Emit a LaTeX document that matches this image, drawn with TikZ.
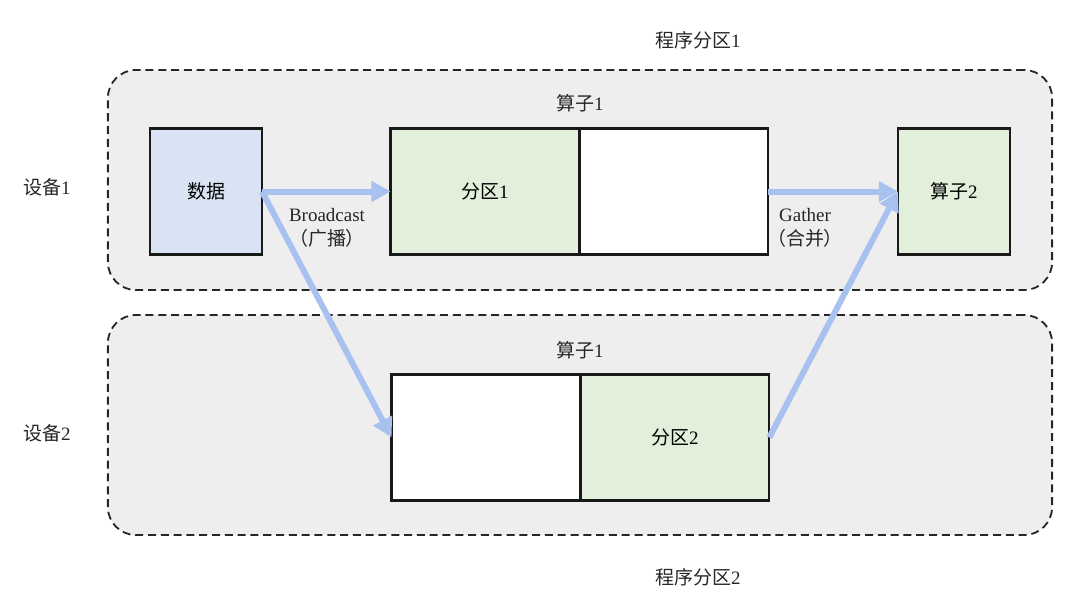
\documentclass[tikz,border=0pt]{standalone}
\usepackage{fontspec}
\setmainfont{Liberation Serif}
\newfontfamily\cjk{Noto Sans CJK SC}
\usepackage{xcolor}
\usepackage{tikz}
\usetikzlibrary{arrows.meta, positioning}
\definecolor{devgray}{HTML}{EEEEEE}
\definecolor{datablue}{HTML}{DAE3F3}
\definecolor{partgreen}{HTML}{E2EFDA}
\definecolor{arrowblue}{HTML}{A9C1EE}
\tikzset{
  device/.style={rectangle, rounded corners=0.7cm, draw=black!85, dash pattern=on 2mm off 1.2mm,
                 line width=1.3pt, fill=devgray, minimum width=23.6cm, minimum height=5.5cm},
  databox/.style={rectangle, draw=black!90, line width=1.7pt, fill=datablue, outer sep=0pt,
                  minimum width=2.8cm, minimum height=3.15cm, font=\fontsize{13.5}{16}\selectfont},
  partbox/.style={rectangle, draw=black!90, line width=1.7pt, fill=partgreen, outer sep=0pt,
                  minimum width=4.72cm, minimum height=3.15cm, font=\fontsize{13.5}{16}\selectfont},
  emptybox/.style={rectangle, draw=black!90, line width=1.7pt, fill=white, outer sep=0pt,
                   minimum width=4.72cm, minimum height=3.15cm},
  tag/.style={align=center, font=\fontsize{13.5}{17}\selectfont, text=black!85},
  arrow/.style={-{Triangle[length=0.48cm, width=0.5cm]}, line width=0.15cm, draw=arrowblue},
}

\begin{document}
\begin{tikzpicture}[x=0.025cm, y=-0.025cm]
  \useasboundingbox (0,0) rectangle (1080,606);

  % --- Program partitions (devices) ---
  \node[device] (dev1) at (580,180) {};
  \node[device] (dev2) at (580,425) {};
  \node[tag] (prog1) at (698,40)  {{\cjk 程序分区}1};
  \node[tag] (prog2) at (698,577) {{\cjk 程序分区}2};
  \node[tag] (devlab1) at (47,187) {{\cjk 设备}1};
  \node[tag] (devlab2) at (47,433) {{\cjk 设备}2};

  % --- Device 1 ---
  \node[databox] (data) at (206,191.5) {\cjk 数据};
  \node[partbox] (part1) at (485,191.5) {{\cjk 分区}1};
  \node[emptybox, right=0pt of part1] (rest1) {};
  \node[tag] (op1a) at (580,103) {{\cjk 算子}1};
  \node[partbox, minimum width=2.8cm] (op2) at (954,191.5) {{\cjk 算子}2};

  % --- Device 2 ---
  \node[emptybox] (rest2) at (486,437.5) {};
  \node[partbox, right=0pt of rest2] (part2) {{\cjk 分区}2};
  \node[tag] (op1b) at (580,350) {{\cjk 算子}1};

  % --- Arrows ---
  \draw[arrow] (data.east) -- (part1.west);
  \draw[arrow] (data.east) -- (rest2.west);
  \draw[arrow] (rest1.east) -- (op2.west);
  \draw[arrow] (part2.east) -- (op2.west);

  % --- Arrow labels ---
  \node[tag] (bcast) at (327,228) {Broadcast\\{\cjk （广播）}};
  \node[tag] (gather) at (805,228) {Gather\\{\cjk （合并）}};

\end{tikzpicture}
\end{document}
